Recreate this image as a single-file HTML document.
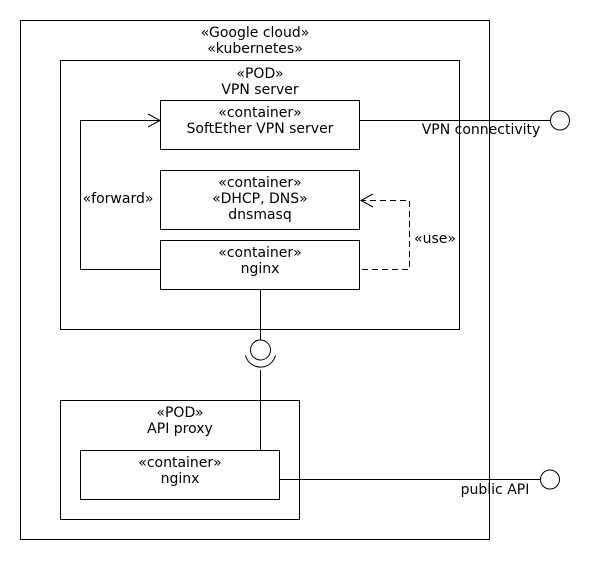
<!DOCTYPE html>
<html><head><meta charset="utf-8"><style>
body{margin:0;background:#fff}
text{font-family:"DejaVu Sans","Liberation Sans",sans-serif;font-size:14px;fill:#000}
</style></head><body>
<svg width="600" height="560" xmlns="http://www.w3.org/2000/svg">
<g fill="none" stroke="#000" stroke-width="1">
<rect x="20.5" y="20.5" width="469" height="519"/>
<rect x="60.5" y="60.5" width="399" height="269"/>
<rect x="160.5" y="100.5" width="199" height="49"/>
<rect x="160.5" y="170.5" width="199" height="59"/>
<rect x="160.5" y="240.5" width="199" height="49"/>
<rect x="60.5" y="400.5" width="239" height="119"/>
<rect x="80.5" y="450.5" width="199" height="49"/>
<polyline points="160.5,269.5 80.5,269.5 80.5,120.5 160.5,120.5"/>
<polyline points="148,114 160,120.5 148,127"/>
<polyline points="362,269.5 409.5,269.5 409.5,200.5 362,200.5" stroke-dasharray="6,4"/>
<polyline points="373,194 361,200.5 373,207"/>
<line x1="360" y1="120.5" x2="550" y2="120.5"/>
<circle cx="560" cy="120.5" r="9.5"/>
<line x1="280" y1="479.5" x2="540" y2="479.5"/>
<circle cx="550" cy="479.5" r="9.5"/>
<line x1="260.5" y1="290" x2="260.5" y2="340"/>
<circle cx="260.5" cy="350" r="10"/>
<path d="M245.5,355.5 A15.5,15.5 0 0 0 275.5,355.5"/>
<line x1="260.5" y1="370" x2="260.5" y2="450"/>
</g>
<g text-anchor="middle">
<text x="255" y="37">«Google cloud»</text>
<text x="255" y="53">«kubernetes»</text>
<text x="260" y="78">«POD»</text>
<text x="260" y="94">VPN server</text>
<text x="260" y="117">«container»</text>
<text x="260" y="133">SoftEther VPN server</text>
<text x="260" y="187">«container»</text>
<text x="260" y="203">«DHCP, DNS»</text>
<text x="260" y="219">dnsmasq</text>
<text x="260" y="257">«container»</text>
<text x="260" y="273">nginx</text>
<text x="180" y="417">«POD»</text>
<text x="180" y="433">API proxy</text>
<text x="180" y="467">«container»</text>
<text x="180" y="483">nginx</text>
<text x="118" y="203">«forward»</text>
<text x="435" y="243">«use»</text>
<text x="481" y="134">VPN connectivity</text>
<text x="495" y="494">public API</text>
</g>
</svg>
</body></html>
